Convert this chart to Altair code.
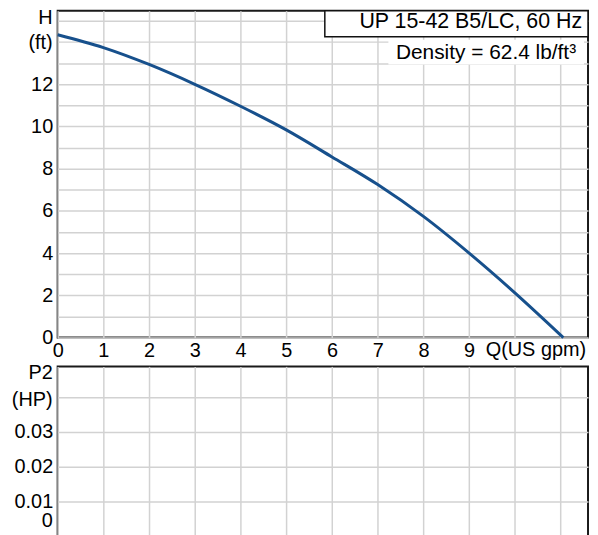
import altair as alt
import pandas as pd

# Pump curve data
q_vals = [0, 1, 2, 3, 4, 5, 6, 7, 8, 9, 10, 11.06]
h_vals = [14.35, 13.74, 12.94, 12.0, 10.96, 9.84, 8.56, 7.25, 5.74, 4.0, 2.12, 0.0]
x_ticks = list(range(0, 12))
h_ticks = list(range(0, 16))
p_ticks = [0, 0.01, 0.02, 0.03, 0.04]
title_text = "UP 15-42 B5/LC, 60 Hz"
density_text = "Density = 62.4 lb/ft³"

FONT = "Liberation Sans"
FS = 20
GRID = "#d2d2d2"
W = 534
H_TOP = 329
H_BOT = 171

curve = pd.DataFrame({"q": q_vals, "h": h_vals})

xscale = alt.Scale(domain=[0, 11.6], nice=False, zero=False)

top_x = alt.X("q:Q", scale=xscale, axis=alt.Axis(
    values=x_ticks, labelExpr="datum.value <= 9 ? datum.label : ''",
    grid=True, gridColor=GRID, gridWidth=1.5, ticks=False, domain=False, title=None,
    labelFont=FONT, labelFontSize=FS, labelColor="#000", labelPadding=3, labelOverlap=False,
    labelFlush=False))
top_y = alt.Y("h:Q", scale=alt.Scale(domain=[0, 15.48], nice=False), axis=alt.Axis(
    values=h_ticks, labelExpr="(datum.value % 2 == 0 && datum.value <= 12) ? datum.label : ''",
    grid=True, gridColor=GRID, gridWidth=1.5, ticks=False, domain=False, title=None,
    labelFont=FONT, labelFontSize=FS, labelColor="#000", labelPadding=5, labelOverlap=False,
    labelFlush=False))

line = alt.Chart(curve).mark_line(color="#17508c", strokeWidth=3, interpolate="monotone").encode(
    x=top_x, y=top_y)

def txt(t, x, y, align="right", baseline="middle", size=FS):
    return alt.Chart(pd.DataFrame({"t": [t]})).mark_text(
        font=FONT, fontSize=size, color="#000", align=align, baseline=baseline
    ).encode(text="t:N", x=alt.value(x), y=alt.value(y))

box = alt.Chart(pd.DataFrame({"a": [0]})).mark_rect(fill="white", stroke="#111", strokeWidth=1.5).encode(
    x=alt.value(269), x2=alt.value(534), y=alt.value(0), y2=alt.value(26))
dens_bg = alt.Chart(pd.DataFrame({"a": [0]})).mark_rect(fill="white").encode(
    x=alt.value(333), x2=alt.value(530), y=alt.value(29), y2=alt.value(54))

top = alt.layer(
    line, box, dens_bg,
    txt(title_text, 528, 11, size=21.5),
    txt(density_text, 522, 42, size=21),
    txt("H", -5, 7),
    txt("(ft)", -5, 32),
    txt("Q(US gpm)", 431, H_TOP + 3, align="left", baseline="top"),
).properties(width=W, height=H_TOP)

pscale = alt.Scale(domain=[0, 0.0489], nice=False)
bot_x = alt.X("q:Q", scale=xscale, axis=alt.Axis(
    values=x_ticks, labels=False, grid=True, gridColor=GRID, gridWidth=1.5,
    ticks=False, domain=False, title=None))
bot_y = alt.Y("p:Q", scale=pscale, axis=alt.Axis(
    values=p_ticks,
    labelExpr="(datum.value > 0.005 && datum.value < 0.035) ? format(datum.value, '.2f') : ''",
    grid=True, gridColor=GRID, gridWidth=1.5, ticks=False, domain=False, title=None,
    labelFont=FONT, labelFontSize=FS, labelColor="#000", labelPadding=5, labelOverlap=False,
    labelFlush=False))

dummy = alt.Chart(pd.DataFrame({"q": [0], "p": [0]})).mark_point(opacity=0).encode(x=bot_x, y=bot_y)

bottom = alt.layer(
    dummy,
    txt("P2", -5, 7),
    txt("(HP)", -5, 34),
    txt("0", -5, 156),
).properties(width=W, height=H_BOT)

chart = alt.vconcat(top, bottom, spacing=29, bounds="flush").properties(
    autosize=alt.AutoSizeParams(type="pad"),
    padding={"left": 2, "top": -3, "right": 0, "bottom": 0},
).configure_view(stroke="#1a1a1a", strokeWidth=2)

chart.save("out.html", embed_options={"renderer": "svg", "actions": False})
